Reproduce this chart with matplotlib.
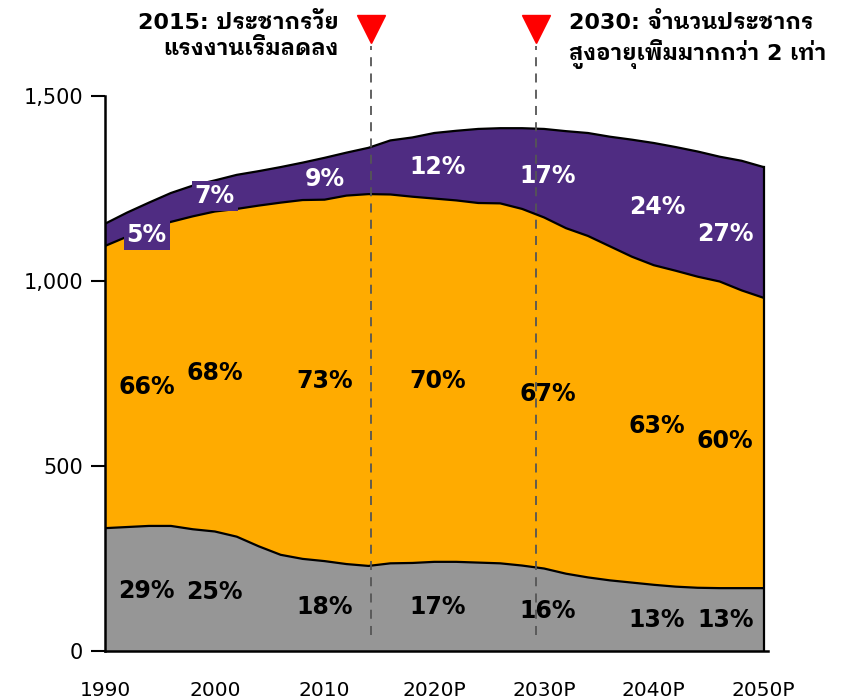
import numpy as np
import matplotlib
matplotlib.use("Agg")
import matplotlib.pyplot as plt
from matplotlib.ticker import FuncFormatter

# ── ข้อมูลประชากร (ล้านคน) อ่านค่าจากกราฟ ─────────────────────────────
years = [1990, 1992, 1994, 1996, 1998, 2000, 2002, 2004, 2006, 2008,
         2010, 2012, 2014, 2016, 2018, 2020, 2022, 2024, 2026, 2028,
         2030, 2032, 2034, 2036, 2038, 2040, 2042, 2044, 2046, 2048, 2050]
children = [333, 336, 339, 339, 330, 324, 310, 284, 261, 250,
            244, 236, 231, 238, 239, 242, 242, 240, 238, 232,
            224, 210, 200, 192, 186, 180, 175, 172, 171, 171, 171]
working = [762, 784, 803, 821, 845, 864, 885, 920, 951, 969,
           976, 995, 1004, 996, 989, 981, 976, 971, 972, 963,
           948, 933, 922, 902, 880, 863, 853, 840, 828, 804, 784]
elderly = [60, 65, 70, 78, 83, 84, 92, 93, 96, 101,
           113, 116, 125, 146, 160, 177, 188, 200, 203, 218,
           239, 262, 278, 296, 316, 330, 334, 338, 337, 350, 353]

grey_pct = ["29%", "25%", "18%", "17%", "16%", "13%", "13%"]
orange_pct = ["66%", "68%", "73%", "70%", "67%", "63%", "60%"]
purple_pct = ["5%", "7%", "9%", "12%", "17%", "24%", "27%"]
label_x = [1993.8, 2000, 2010, 2020.3, 2030.3, 2040.3, 2046.5]
grey_y = [163, 160, 120, 120, 109, 85, 85]
orange_y = [714, 751, 730, 730, 695, 608, 567]
purple_y = [1124, 1229, 1277, 1307, 1283, 1199, 1126]

marker_years = [2014.2, 2029.3]
xticks = [1990, 2000, 2010, 2020, 2030, 2040, 2050]
xtick_labels = ["1990", "2000", "2010", "2020P", "2030P", "2040P", "2050P"]

GREY = "#969696"
ORANGE = "#FFAB00"
PURPLE = "#4F2C82"
FAM = ["DejaVu Sans", "IBM Plex Sans Thai Looped"]

fig = plt.figure(figsize=(8.43, 6.99), dpi=100)
ax = fig.add_axes([0.1246, 0.068, 0.7864, 0.7947])

ax.stackplot(years, children, working, elderly,
             colors=[GREY, ORANGE, PURPLE], linewidth=0)
c1 = np.array(children)
c2 = c1 + np.array(working)
c3 = c2 + np.array(elderly)
for c in (c1, c2, c3):
    ax.plot(years, c, color="black", linewidth=1.6, solid_joinstyle="round")
ax.plot([years[-1], years[-1]], [0, c3[-1]], color="black", linewidth=1.6)

# ── ป้ายเปอร์เซ็นต์ ────────────────────────────────────────────────────
for x, g, o, p, gy, oy, py in zip(label_x, grey_pct, orange_pct, purple_pct,
                                  grey_y, orange_y, purple_y):
    ax.text(x, gy, g, ha="center", va="center", fontsize=17,
            fontweight="bold", color="black")
    ax.text(x, oy, o, ha="center", va="center", fontsize=17,
            fontweight="bold", color="black")
    bbox = None
    if p in ("5%", "7%"):
        bbox = dict(boxstyle="square,pad=0.12", fc=PURPLE, ec="none")
    ax.text(x, py, p, ha="center", va="center", fontsize=17,
            fontweight="bold", color="white", bbox=bbox)

# ── เส้นประและสามเหลี่ยมบอกปี ─────────────────────────────────────────
for mx in marker_years:
    ax.plot([mx, mx], [45, 1636], color="#555555", linewidth=1.3,
            linestyle=(0, (5, 4)), clip_on=False)
    ax.plot(mx, 1682, marker="v", markersize=20, color="#FF0000",
            clip_on=False)

ax.text(2011.3, 1727, "2015: ประชากรวัย\nแรงงานเริ่มลดลง", ha="right",
        va="top", fontsize=16, fontweight="bold", family=FAM,
        linespacing=1.3, clip_on=False)
ax.text(2032.3, 1727, "2030: จำนวนประชากร\nสูงอายุเพิ่มมากกว่า 2 เท่า",
        ha="left", va="top", fontsize=16, fontweight="bold", family=FAM,
        linespacing=1.3, clip_on=False)

ax.set_xlim(1990, 2050.4)
ax.set_ylim(0, 1500)
ax.set_yticks([0, 500, 1000, 1500])
ax.yaxis.set_major_formatter(FuncFormatter(lambda v, p: f"{int(v):,}"))
ax.set_xticks(xticks)
ax.set_xticklabels(xtick_labels)
ax.tick_params(axis="y", length=10, width=1.5, labelsize=15, pad=6)
ax.tick_params(axis="x", length=0, labelsize=14.5, pad=21)
for s in ("top", "right"):
    ax.spines[s].set_visible(False)
for s in ("left", "bottom"):
    ax.spines[s].set_linewidth(1.8)

fig.savefig("out.png", dpi=100)
